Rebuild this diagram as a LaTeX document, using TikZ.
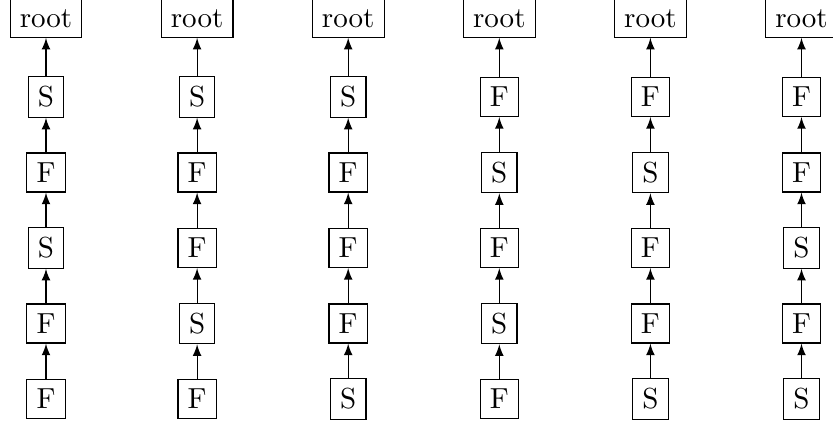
\documentclass[tikz,border=0pt]{standalone}
\usetikzlibrary{arrows}
\begin{document}
\begin{tikzpicture}[x=0.3448pt,y=-0.3448pt,
  box/.style={draw,rectangle},
  link/.style={-latex}]
\useasboundingbox (0,0) rectangle (833,422);
\foreach \c/\seq [count=\i] in {0/{S,F,S,F,F},1/{S,F,F,S,F},2/{S,F,F,F,S},3/{F,S,F,S,F},4/{F,S,F,F,S},5/{F,F,S,F,S}}{
  \pgfmathsetmacro{\cx}{46+151.1*\c}
  \node[box] (r\i) at (\cx,18.5) {root};
  \foreach \l [count=\j] in \seq {
    \pgfmathsetmacro{\cy}{97+75.5*(\j-1)}
    \node[box] (n\i-\j) at (\cx,\cy) {\l};
  }
  \draw[link] (n\i-1) -- (r\i);
  \foreach \j [evaluate=\j as \k using int(\j+1)] in {1,...,4}{
    \draw[link] (n\i-\k) -- (n\i-\j);
  }
}
\end{tikzpicture}
\end{document}
